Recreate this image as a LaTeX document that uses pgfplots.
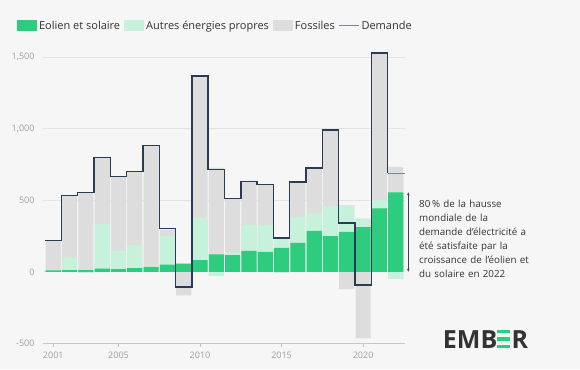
\documentclass[border=0pt]{standalone}
\usepackage{pgfplots}
\pgfplotsset{compat=1.18}
\usepackage{pgfplotstable}
\usetikzlibrary{arrows.meta}
\usepackage{fontspec}
\setmainfont{Open Sans}
\definecolor{bgc}{HTML}{F6F6F6}
\definecolor{cgreen}{HTML}{2ECC7E}
\definecolor{clight}{HTML}{C6F1DB}
\definecolor{cgrey}{HTML}{DDDDDD}
\definecolor{cline}{HTML}{2B3A55}
\definecolor{clinelt}{HTML}{7687A3}
\definecolor{cgrid}{HTML}{E3E3E3}
\definecolor{ctick}{HTML}{9E9E9E}
\definecolor{ctext}{HTML}{333333}
\definecolor{clogo}{HTML}{333333}

\pgfplotstableread{
year ws lgtop gtop lgneg gneg
2001 10 15 220 0 0
2002 12 100 532 0 0
2003 12 12 552 -6 -6
2004 23 337 798 0 0
2005 19 147 664 0 0
2006 26 188 702 0 0
2007 35 47 882 0 0
2008 51 249 295 0 0
2009 58 58 58 0 -165
2010 81 377 1370 0 0
2011 121 121 726 -28 -28
2012 116 135 512 0 0
2013 147 330 635 0 0
2014 140 326 609 0 0
2015 167 233 235 -6 -6
2016 202 384 628 0 0
2017 286 409 726 0 0
2018 249 460 993 0 0
2019 279 465 465 0 -121
2020 312 372 372 0 -465
2021 444 505 1531 0 0
2022 556 556 733 -47 -47
}\datatable

\newcommand{\greenE}{{\color{cgreen}\rlap{\rule[0pt]{0.52em}{0.13em}}\rlap{\rule[0.295em]{0.52em}{0.13em}}\rule[0.59em]{0.52em}{0.13em}}}

\pgfplotsset{
  boxleg/.style={legend image code/.code={\fill[##1] (0pt,-5.5pt) rectangle (20pt,5.5pt);}},
  lineleg/.style={legend image code/.code={\draw[clinelt, line width=0.8pt] (0pt,0pt)--(20pt,0pt);}},
}

\begin{document}
\begin{tikzpicture}
\useasboundingbox (0,0) rectangle (580pt,369pt);
\fill[bgc] (0,0) rectangle (580pt,369pt);
\begin{axis}[
  at={(43pt,25.7pt)}, anchor=south west,
  scale only axis, width=362pt, height=294.6pt,
  xmin=2000.37, xmax=2022.57, ymin=-500, ymax=1560,
  clip=false,
  axis x line*=bottom, axis y line*=left,
  y axis line style={draw=none},
  x axis line style={draw=black!22, line width=0.6pt},
  xtick={2001,2005,2010,2015,2020},
  xticklabels={2001,2005,2010,2015,2020},
  ytick={-500,0,500,1000,1500},
  yticklabels={-500,0,500,{1,000},{1,500}},
  ymajorgrids, grid style={cgrid, line width=0.6pt},
  tick align=outside,
  xtick style={draw=black!25, line width=0.5pt},
  ytick style={draw=none},
  major tick length=4pt,
  tick label style={font=\fontsize{9}{10}\selectfont, text=ctick},
  yticklabel style={xshift=-1pt},
  xticklabel style={yshift=-1pt},
  legend columns=4,
  legend style={at={(axis description cs:-0.072,1.078)}, anchor=west,
    draw=none, fill=none, inner sep=0pt,
    font=\fontsize{11}{13}\selectfont, text=ctext,
    /tikz/every even column/.append style={column sep=2pt}},
  legend cell align=left,
]
\addlegendimage{boxleg, fill=cgreen, draw=none}
\addlegendentry{Eolien et solaire}
\addlegendimage{boxleg, fill=clight, draw=none}
\addlegendentry{Autres énergies propres}
\addlegendimage{boxleg, fill=cgrey, draw=none}
\addlegendentry{Fossiles}
\addlegendimage{lineleg}
\addlegendentry{Demande}

\addplot[forget plot, ybar, bar width=0.93, bar shift=0pt, fill=cgrey, draw=none] table[x=year, y=gtop] {\datatable};
\addplot[forget plot, ybar, bar width=0.93, bar shift=0pt, fill=cgrey, draw=none] table[x=year, y=gneg] {\datatable};
\addplot[forget plot, ybar, bar width=0.93, bar shift=0pt, fill=clight, draw=none] table[x=year, y=lgtop] {\datatable};
\addplot[forget plot, ybar, bar width=0.93, bar shift=0pt, fill=clight, draw=none] table[x=year, y=lgneg] {\datatable};
\addplot[forget plot, ybar, bar width=0.93, bar shift=0pt, fill=cgreen, draw=none] table[x=year, y=ws] {\datatable};

\addplot[forget plot, cline, line width=1.5pt, mark=none, line join=miter] coordinates {
(2000.5,219) (2001.5,219) (2001.5,535) (2002.5,535) (2002.5,554) (2003.5,554)
(2003.5,798) (2004.5,798) (2004.5,668) (2005.5,668) (2005.5,702) (2006.5,702)
(2006.5,882) (2007.5,882) (2007.5,302) (2008.5,302) (2008.5,-105) (2009.5,-105)
(2009.5,1370) (2010.5,1370) (2010.5,714) (2011.5,714) (2011.5,512) (2012.5,512)
(2012.5,633) (2013.5,633) (2013.5,609) (2014.5,609) (2014.5,235) (2015.5,235)
(2015.5,628) (2016.5,628) (2016.5,726) (2017.5,726) (2017.5,993) (2018.5,993)
(2018.5,342) (2019.5,342) (2019.5,-93) (2020.5,-93) (2020.5,1531) (2021.5,1531)
(2021.5,690)
};
\addplot[forget plot, clinelt, line width=0.8pt, mark=none] coordinates {(2021.5,690) (2022.6,690)};

\draw[{Stealth[length=3pt,width=2.5pt]}-{Stealth[length=3pt,width=2.5pt]}, black!75, line width=0.6pt]
  (axis cs:2022.77,556) -- (axis cs:2022.77,0);
\end{axis}

\node[anchor=north west, inner sep=0pt, text width=160pt, align=left, text=ctext,
  font=\fontsize{9.8}{14}\selectfont] at (419pt,169.5pt)
  {80\,\% de la hausse\\mondiale de la\\demande d'électricité a\\été satisfaite par la\\croissance de l'éolien et\\du solaire en 2022};

\node[inner sep=0pt, text=clogo, font=\fontsize{25}{25}\bfseries\selectfont] at (485.5pt,30pt)
  {EMB\greenE\kern0.05em R};
\end{tikzpicture}
\end{document}
